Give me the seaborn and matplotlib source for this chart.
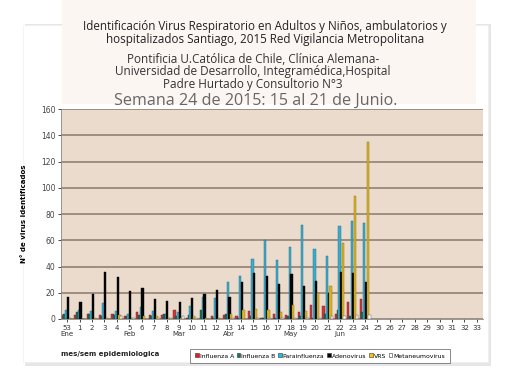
import numpy as np
import pandas as pd
import matplotlib
matplotlib.use("Agg")
import matplotlib.pyplot as plt
import matplotlib.patches as mpatches
import matplotlib.transforms as mtransforms
import matplotlib.colors as mcolors
import seaborn as sns

# data (semana 53 de 2014 .. semana 24 de 2015)
weeks = ["53"] + [str(i) for i in range(1, 34)]
weeks_with_data = weeks[:25]
influenza_a = [3, 3, 4, 3, 4, 2, 5, 3, 3, 7, 1, 0, 2, 3, 2, 6, 1, 4, 3, 5, 11, 10, 4, 13, 15]
influenza_b = [4, 5, 4, 2, 3, 2, 3, 2, 4, 2, 3, 7, 1, 4, 1, 2, 1, 1, 2, 2, 1, 4, 7, 2, 5]
parainfluenza = [7, 7, 6, 12, 6, 4, 9, 6, 4, 5, 10, 17, 16, 28, 33, 46, 60, 45, 55, 72, 53, 48, 71, 75, 73]
adenovirus = [17, 13, 19, 36, 32, 21, 24, 15, 14, 13, 16, 19, 22, 17, 28, 35, 33, 27, 34, 25, 29, 20, 36, 35, 28]
vrs = [1, 0, 1, 1, 3, 1, 2, 2, 1, 1, 2, 1, 1, 4, 7, 8, 7, 5, 11, 6, 20, 25, 58, 94, 135]
metaneumovirus = [0, 0, 0, 0, 2, 1, 0, 1, 1, 2, 1, 0, 0, 1, 0, 1, 1, 1, 1, 1, 1, 2, 2, 3, 3]
months = {"53": "Ene", "5": "Feb", "9": "Mar", "13": "Abr", "18": "May", "22": "Jun"}

virus_names = ["Influenza A", "Influenza B", "Parainfluenza", "Adenovirus", "VRS", "Metaneumovirus"]
virus_colors = ["#ec1a20", "#0e7a5e", "#1fbbe8", "#050505", "#fcc400", "#ffffff"]

df = pd.DataFrame({
    "semana": weeks_with_data,
    "Influenza A": influenza_a,
    "Influenza B": influenza_b,
    "Parainfluenza": parainfluenza,
    "Adenovirus": adenovirus,
    "VRS": vrs,
    "Metaneumovirus": metaneumovirus,
})
df_long = df.melt(id_vars="semana", var_name="virus", value_name="n")

# figure / card background
fig = plt.figure(figsize=(5.1, 3.76), dpi=100)
fig.patch.set_facecolor("white")
# card shadow + card + pinkish title box (behind the axes)
fig.patches.append(mpatches.Rectangle((25 / 510, 1 - 366 / 376), 466 / 510, 342 / 376,
                                      transform=fig.transFigure, facecolor="#e6e6e6",
                                      edgecolor="none", zorder=-3))
fig.patches.append(mpatches.Rectangle((23 / 510, 1 - 362 / 376), 465 / 510, 337 / 376,
                                      transform=fig.transFigure, facecolor="white",
                                      edgecolor="#f0f0f0", lw=0.5, zorder=-2))
fig.patches.append(mpatches.Rectangle((62 / 510, 1 - 104 / 376), 414 / 510, 104 / 376,
                                      transform=fig.transFigure, facecolor="#fcf6f3",
                                      edgecolor="none", zorder=-1))

ax = fig.add_axes([61 / 510, 1 - 319 / 376, 422 / 510, 210 / 376])
ax.set_facecolor("#eadbcd")

sns.barplot(
    data=df_long, x="semana", y="n", hue="virus",
    order=weeks, hue_order=virus_names, palette=virus_colors,
    width=0.84, linewidth=0.3, ax=ax, legend=False,
)

# excel-like look: slightly overlapping bars with a darker outline of their own colour
for bar in ax.patches:
    w = bar.get_width()
    bar.set_x(bar.get_x() - w * 0.15)
    bar.set_width(w * 1.3)
    fc = np.array(mcolors.to_rgb(bar.get_facecolor()))
    bar.set_edgecolor(fc * 0.6 if fc.mean() < 0.95 else "#555555")

ax.set_ylim(0, 160)
ax.set_xlim(-0.5, len(weeks) - 0.5)
ax.set_yticks(np.arange(0, 161, 20))
ax.yaxis.grid(True, color="#8b7a6c", linewidth=1.1)
ax.set_axisbelow(True)
ax.tick_params(axis="y", labelsize=5.5, labelcolor="#444444", length=2, width=0.5, pad=2)
ax.tick_params(axis="x", labelsize=5, labelcolor="#333333", length=2, width=0.5, pad=2)
for side in ["top", "right"]:
    ax.spines[side].set_visible(False)
ax.spines["left"].set_color("#888888")
ax.spines["left"].set_linewidth(0.6)
ax.spines["bottom"].set_color("#888888")
ax.spines["bottom"].set_linewidth(0.6)

ax.set_xlabel("")
ax.set_ylabel("N° de virus identificados", fontsize=5, fontweight="bold", labelpad=10)

# month labels under the week numbers
trans = mtransforms.blended_transform_factory(ax.transData, ax.transAxes)
for wk, mes in months.items():
    ax.text(weeks.index(wk), -0.058, mes, transform=trans, ha="center", va="top",
            fontsize=5, color="#333333")

fig.text(110 / 510, 1 - 354 / 376, "mes/sem epidemiologica", ha="center", va="center",
         fontsize=5, fontweight="bold", color="#222222")

handles = [mpatches.Patch(facecolor=c, edgecolor="#333333", linewidth=0.4, label=n)
           for n, c in zip(virus_names, virus_colors)]
leg = fig.legend(
    handles=handles, loc="center", bbox_to_anchor=(320 / 510, 1 - 356 / 376),
    ncol=6, fontsize=4.4, frameon=True, fancybox=False, handlelength=0.6,
    handleheight=0.6, handletextpad=0.15, columnspacing=0.45, borderpad=0.75,
)
leg.get_frame().set_edgecolor("#555555")
leg.get_frame().set_linewidth(0.6)

# titles
fig.text(265 / 510, 1 - 33 / 376,
         "Identificación Virus Respiratorio en Adultos y Niños, ambulatorios y\n"
         "hospitalizados Santiago, 2015 Red Vigilancia Metropolitana",
         ha="center", va="center", fontsize=8.4, family="Open Sans", color="#222222",
         linespacing=1.0)
fig.text(253 / 510, 1 - 72 / 376,
         "Pontificia U.Católica de Chile, Clínica Alemana-\n"
         "Universidad de Desarrollo, Integramédica,Hospital\n"
         "Padre Hurtado y Consultorio N°3",
         ha="center", va="center", fontsize=8.5, family="Open Sans", color="#333333",
         linespacing=0.95)
fig.text(256 / 510, 1 - 101 / 376, "Semana 24 de 2015: 15 al 21 de Junio.",
         ha="center", va="center", fontsize=11.6, family="Open Sans", color="#666666")

plt.savefig("out.png", dpi=100)
